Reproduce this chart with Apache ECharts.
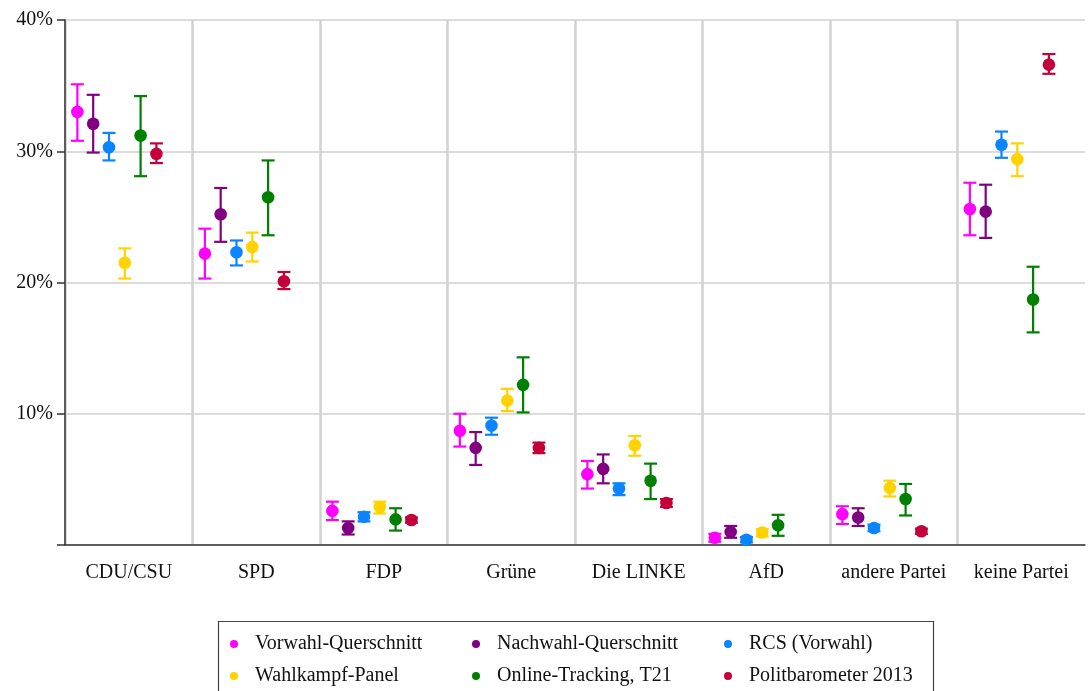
<!DOCTYPE html>
<html>
<head>
<meta charset="utf-8">
<script src="https://cdn.jsdelivr.net/npm/echarts@6/dist/echarts.min.js"></script>
<style>
html,body{margin:0;padding:0;background:#fff;}
#chart{width:1089px;height:691px;}
</style>
</head>
<body>
<div id="chart"></div>
<script>
const categories = ['CDU/CSU','SPD','FDP','Grüne','Die LINKE','AfD','andere Partei','keine Partei'];
const seriesNames = ['Vorwahl-Querschnitt','Nachwahl-Querschnitt','RCS (Vorwahl)','Wahlkampf-Panel','Online-Tracking, T21','Politbarometer 2013'];
const seriesColors = ['#ff00ff','#800080','#0a84ff','#ffd200','#008000','#c4003a'];
const yTicks = [0,10,20,30,40];

// [point, lower, upper] per category (percent)
const vorwahl   = [[33.0,30.8,35.1],[22.2,20.3,24.1],[2.6,1.9,3.3],[8.7,7.5,10.0],[5.4,4.3,6.4],[0.55,0.25,0.85],[2.35,1.6,2.95],[25.6,23.6,27.6]];
const nachwahl  = [[32.1,29.9,34.3],[25.2,23.1,27.2],[1.3,0.8,1.8],[7.4,6.1,8.6],[5.8,4.7,6.9],[1.0,0.55,1.45],[2.1,1.45,2.8],[25.4,23.4,27.45]];
const rcs       = [[30.3,29.3,31.4],[22.3,21.3,23.2],[2.15,1.8,2.5],[9.1,8.4,9.7],[4.3,3.8,4.7],[0.4,0.2,0.6],[1.3,1.05,1.55],[30.5,29.5,31.5]];
const panel     = [[21.5,20.3,22.6],[22.7,21.6,23.8],[2.9,2.4,3.3],[11.0,10.2,11.9],[7.6,6.8,8.3],[0.95,0.65,1.2],[4.35,3.7,4.9],[29.4,28.1,30.6]];
const tracking  = [[31.2,28.1,34.2],[26.5,23.6,29.3],[1.95,1.1,2.8],[12.2,10.1,14.3],[4.9,3.5,6.2],[1.5,0.7,2.3],[3.5,2.25,4.65],[18.7,16.2,21.2]];
const politbaro = [[29.8,29.1,30.6],[20.1,19.5,20.8],[1.9,1.7,2.1],[7.4,7.0,7.8],[3.2,2.9,3.5],null,[1.05,0.85,1.25],[36.6,35.9,37.4]];
const allSeries = [vorwahl, nachwahl, rcs, panel, tracking, politbaro];

const FONT = '"Liberation Serif", "DejaVu Serif", serif';
const OFF_START = -0.403, OFF_STEP = 0.124;

function makeRender(si){
  return function(params, api){
    const ci = api.value(0);
    const bw = api.size([1,0])[0];
    const dx = (OFF_START + si*OFF_STEP)*bw;
    const pMid = api.coord([ci, api.value(1)]);
    const pLo = api.coord([ci, api.value(2)]);
    const pHi = api.coord([ci, api.value(3)]);
    const x = pMid[0] + dx;
    const c = seriesColors[si];
    const hw = 6.5;
    const st = {stroke:c, lineWidth:2.2};
    return {type:'group', children:[
      {type:'line', shape:{x1:x,y1:pLo[1],x2:x,y2:pHi[1]}, style:st},
      {type:'line', shape:{x1:x-hw,y1:pLo[1],x2:x+hw,y2:pLo[1]}, style:st},
      {type:'line', shape:{x1:x-hw,y1:pHi[1],x2:x+hw,y2:pHi[1]}, style:st},
      {type:'circle', shape:{cx:x,cy:pMid[1],r:6.3}, style:{fill:c}}
    ]};
  };
}

const series = allSeries.map((arr, si) => ({
  type:'custom',
  name: seriesNames[si],
  itemStyle:{color: seriesColors[si]},
  renderItem: makeRender(si),
  encode:{x:0, y:1},
  data: arr.map((d, ci) => d ? [ci, d[0], d[1], d[2]] : null).filter(v => v),
  z: 3
}));

function legendCol(names, left){
  return {
    data: names.map(n => ({name:n, icon:'circle'})),
    orient:'vertical', left:left, top:633, padding:0,
    itemWidth:8, itemHeight:8, itemGap:10,
    selectedMode:false,
    textStyle:{fontFamily:FONT, fontSize:20, color:'#111', lineHeight:22, padding:[0,0,0,12]}
  };
}

const chart = echarts.init(document.getElementById('chart'), null, {renderer:'canvas'});
chart.setOption({
  animation:false,
  backgroundColor:'#fff',
  grid:{left:65, right:4, top:20, bottom:146},
  xAxis:{
    type:'category', data:categories, boundaryGap:true,
    axisLine:{lineStyle:{color:'#333', width:1.5}},
    axisTick:{alignWithLabel:true, interval:0, length:8, lineStyle:{color:'#333', width:1.5}},
    axisLabel:{fontFamily:FONT, fontSize:20, color:'#111', margin:18, interval:0},
    splitLine:{show:true, interval:0, showMaxLine:false, lineStyle:{color:'#d2d2d2', width:2.5}}
  },
  yAxis:{
    type:'value', min:0, max:40, interval:10,
    axisLine:{show:true, lineStyle:{color:'#333', width:1.5}},
    axisTick:{show:true, length:8, lineStyle:{color:'#333', width:1.5}},
    axisLabel:{fontFamily:FONT, fontSize:20, color:'#111', margin:12,
      formatter: v => (yTicks.indexOf(v) > 0 ? v + '%' : '')},
    splitLine:{show:true, lineStyle:{color:'#dcdcdc', width:2}}
  },
  legend:[
    legendCol([seriesNames[0], seriesNames[3]], 230),
    legendCol([seriesNames[1], seriesNames[4]], 472),
    legendCol([seriesNames[2], seriesNames[5]], 724)
  ],
  graphic:[{
    type:'rect', shape:{x:218.5, y:621.5, width:715, height:80},
    style:{fill:'none', stroke:'#444', lineWidth:1.2}, z:-1, silent:true
  }],
  series: series
});
</script>
</body>
</html>
